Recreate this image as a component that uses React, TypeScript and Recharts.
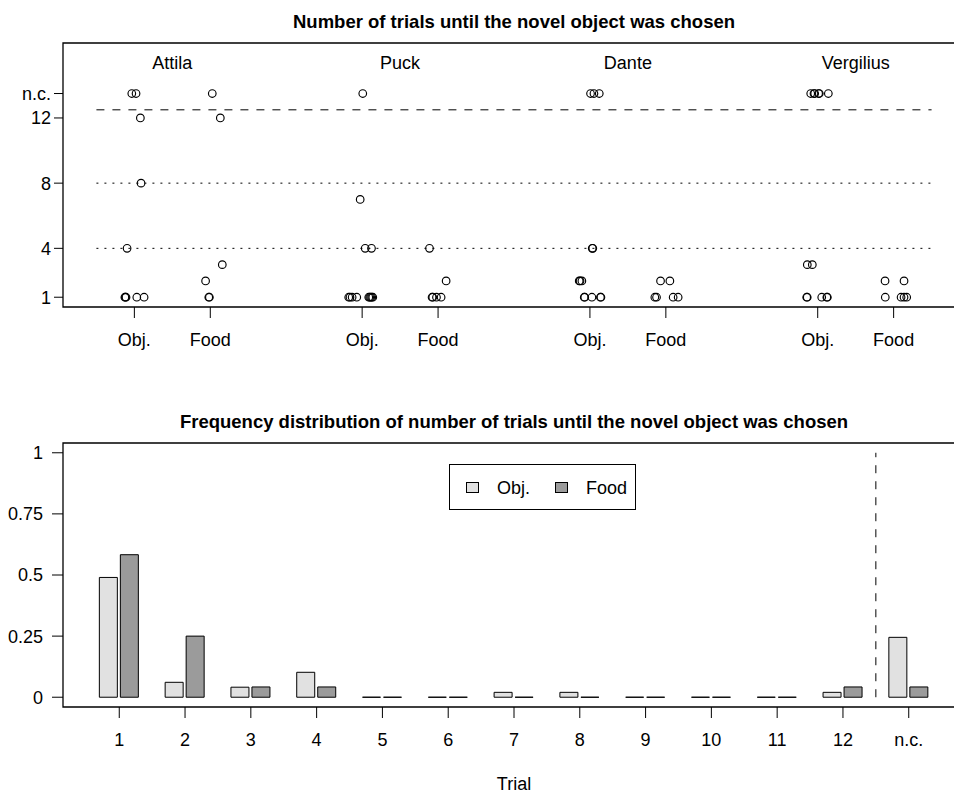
import React from 'react';
import {
  Bar,
  BarChart,
  ReferenceArea,
  ReferenceLine,
  Scatter,
  ScatterChart,
  XAxis,
  YAxis,
  Label,
} from 'recharts';

const FONT = '"Liberation Sans", Arial, Helvetica, sans-serif';

// ---- top panel: trial at which each animal picked the novel object ----
const individuals = ['Attila', 'Puck', 'Dante', 'Vergilius'];
const conditions = ['Obj.', 'Food'];
const NC = 13.5; // height used for "not chosen"
const THRESHOLD = 12.5;
const guideLevels = [4, 8];
const topYTicks = [1, 4, 8, 12, NC];
const NAME_Y = 15.43;

// trials ('n.c.' = never chosen) and horizontal jitter
const attilaObjTrials = ['n.c.', 'n.c.', 12, 8, 4, 1, 1, 1, 1, 1];
const attilaObjJitter = [-0.034, 0.022, 0.079, 0.088, -0.096, -0.125, -0.118, -0.11, 0.032, 0.128];
const attilaFoodTrials = ['n.c.', 12, 3, 2, 1, 1];
const attilaFoodJitter = [0.026, 0.132, 0.158, -0.062, -0.02, -0.012];

const puckObjTrials = ['n.c.', 7, 4, 4, 1, 1, 1, 1, 1, 1, 1, 1, 1];
const puckObjJitter = [0.008, -0.026, 0.04, 0.123, -0.177, -0.16, -0.132, -0.071, 0.087, 0.1, 0.113, 0.127, 0.14];
const puckFoodTrials = [4, 2, 1, 1, 1, 1];
const puckFoodJitter = [-0.113, 0.106, -0.079, -0.07, -0.021, 0.04];

const danteObjTrials = ['n.c.', 'n.c.', 'n.c.', 4, 4, 2, 2, 2, 1, 1, 1, 1, 1];
const danteObjJitter = [0.008, 0.053, 0.123, 0.03, 0.038, -0.141, -0.13, -0.106, -0.075, -0.068, 0.026, 0.138, 0.145];
const danteFoodTrials = [2, 2, 1, 1, 1, 1];
const danteFoodJitter = [-0.07, 0.053, -0.145, -0.123, 0.096, 0.162];

const vergiliusObjTrials = ['n.c.', 'n.c.', 'n.c.', 'n.c.', 'n.c.', 'n.c.', 3, 3, 1, 1, 1, 1, 1];
const vergiliusObjJitter = [-0.092, -0.049, -0.04, 0.012, 0.021, 0.14, -0.137, -0.071, -0.145, -0.138, 0.053, 0.12, 0.127];
const vergiliusFoodTrials = [2, 2, 1, 1, 1, 1];
const vergiliusFoodJitter = [-0.113, 0.137, -0.11, 0.098, 0.137, 0.172];

const topGroups = [
  [[attilaObjTrials, attilaObjJitter], [attilaFoodTrials, attilaFoodJitter]],
  [[puckObjTrials, puckObjJitter], [puckFoodTrials, puckFoodJitter]],
  [[danteObjTrials, danteObjJitter], [danteFoodTrials, danteFoodJitter]],
  [[vergiliusObjTrials, vergiliusObjJitter], [vergiliusFoodTrials, vergiliusFoodJitter]],
];

// ---- bottom panel: relative frequencies ----
const trialLabels = ['1', '2', '3', '4', '5', '6', '7', '8', '9', '10', '11', '12', 'n.c.'];
const objFreq = [0.49, 0.061, 0.041, 0.102, 0, 0, 0.02, 0.02, 0, 0, 0, 0.02, 0.245];
const foodFreq = [0.583, 0.25, 0.042, 0.042, 0, 0, 0, 0, 0, 0, 0, 0.042, 0.042];
const freqTicks = [0, 0.25, 0.5, 0.75, 1];

const groupPos = (i: number, c: number) => 3 * i + 1 + c;

const topPoints = topGroups.flatMap((g, i) =>
  g.flatMap(([trials, jitter], c) =>
    (trials as (number | string)[]).map((t, k) => ({
      x: groupPos(i, c) + (jitter as number[])[k],
      y: t === 'n.c.' ? NC : (t as number),
      who: individuals[i],
      cond: conditions[c],
    }))
  )
);
const topXTicks = individuals.flatMap((_, i) => conditions.map((_, c) => groupPos(i, c)));
const nameData = individuals.map((name, i) => ({ x: groupPos(i, 0) + 0.5, y: NAME_Y, name }));

const barData = trialLabels.map((label, i) => ({ pos: i + 1, label, obj: objFreq[i], food: foodFreq[i] }));

const TOP_X = [0.06, 11.94];
const TOP_Y = [0.4, 16.6];
const BOT_X = [0.145, 13.855];
const BOT_Y = [-0.04, 1.04];

const tickFont = { fill: '#000', fontSize: 18, fontFamily: FONT };

const OpenCircle = (props: any) => (
  <circle cx={props.cx} cy={props.cy} r={3.8} fill="none" stroke="#000" strokeWidth={1.15} />
);

const NameText = (props: any) => (
  <text x={props.cx} y={props.cy} dy="0.36em" textAnchor="middle" fontSize={18} fontFamily={FONT} fill="#000">
    {props.payload.name}
  </text>
);

// zero-height bars still get drawn as a flat line, like R does
const OutlinedBar = (props: any) => {
  const { x, y, width, height, fill } = props;
  return <path d={`M${x},${y}h${width}v${height}h${-width}Z`} fill={fill} stroke="#000" strokeWidth={1} />;
};

const titleStyle = (top: number): React.CSSProperties => ({
  position: 'absolute',
  left: 63,
  width: 902,
  top,
  textAlign: 'center',
  fontWeight: 'bold',
  fontSize: 18.5,
  lineHeight: '20px',
  whiteSpace: 'nowrap',
});

const swatch = (left: number, fill: string): React.CSSProperties => ({
  position: 'absolute',
  left,
  top: 17,
  width: 13,
  height: 11,
  background: fill,
  border: '1px solid #000',
  boxSizing: 'border-box',
});

const legendText = (left: number): React.CSSProperties => ({
  position: 'absolute',
  left,
  top: 13,
  fontSize: 18,
  lineHeight: '20px',
});

export default function App() {
  return (
    <div
      style={{
        position: 'absolute',
        left: 0,
        top: 0,
        width: 954,
        height: 793,
        overflow: 'hidden',
        background: '#fff',
        fontFamily: FONT,
        color: '#000',
      }}
    >
      <div style={titleStyle(12)}>Number of trials until the novel object was chosen</div>
      <div style={{ position: 'absolute', left: 0, top: 0 }}>
        <ScatterChart width={975} height={400} margin={{ top: 43, right: 10, bottom: 0, left: 0 }}>
          <XAxis
            type="number"
            dataKey="x"
            domain={TOP_X}
            ticks={topXTicks}
            interval={0}
            allowDataOverflow
            height={93}
            axisLine={false}
            tickLine={{ stroke: '#000' }}
            tickSize={11}
            tickMargin={15}
            tick={tickFont}
            tickFormatter={(v: number) => conditions[(v - 1) % 3]}
          />
          <YAxis
            type="number"
            dataKey="y"
            domain={TOP_Y}
            ticks={topYTicks}
            interval={0}
            allowDataOverflow
            width={63}
            axisLine={false}
            tickLine={{ stroke: '#000' }}
            tickSize={9}
            tickMargin={3}
            tick={tickFont}
            tickFormatter={(v: number) => (v === NC ? 'n.c.' : String(v))}
          />
          <ReferenceArea x1={TOP_X[0]} x2={TOP_X[1]} y1={TOP_Y[0]} y2={TOP_Y[1]} fill="none" stroke="#000" strokeWidth={1.3} />
          {guideLevels.map(l => (
            <ReferenceLine
              key={l}
              segment={[{ x: 0.5, y: l }, { x: 11.5, y: l }]}
              stroke="#000"
              strokeDasharray="2 6"
            />
          ))}
          <ReferenceLine
            segment={[{ x: 0.5, y: THRESHOLD }, { x: 11.5, y: THRESHOLD }]}
            stroke="#000"
            strokeDasharray="8 8"
          />
          <Scatter data={topPoints} shape={OpenCircle} isAnimationActive={false} />
          <Scatter data={nameData} shape={NameText} isAnimationActive={false} />
        </ScatterChart>
      </div>

      <div style={titleStyle(412)}>
        Frequency distribution of number of trials until the novel object was chosen
      </div>
      <div style={{ position: 'absolute', left: 0, top: 400 }}>
        <BarChart
          width={975}
          height={393}
          data={barData}
          barGap={3}
          margin={{ top: 43, right: 10, bottom: 0, left: 0 }}
        >
          <XAxis
            type="number"
            dataKey="pos"
            domain={BOT_X}
            ticks={barData.map(d => d.pos)}
            interval={0}
            allowDataOverflow
            height={86}
            axisLine={false}
            tickLine={{ stroke: '#000' }}
            tickSize={11}
            tickMargin={15}
            tick={tickFont}
            tickFormatter={(v: number) => trialLabels[v - 1]}
          >
            <Label value="Trial" position="insideBottom" offset={3} fill="#000" fontSize={18} fontFamily={FONT} />
          </XAxis>
          <YAxis
            type="number"
            domain={BOT_Y}
            ticks={freqTicks}
            interval={0}
            allowDataOverflow
            width={63}
            axisLine={false}
            tickLine={{ stroke: '#000' }}
            tickSize={11}
            tickMargin={9}
            tick={tickFont}
          />
          <ReferenceArea x1={BOT_X[0]} x2={BOT_X[1]} y1={BOT_Y[0]} y2={BOT_Y[1]} fill="none" stroke="#000" strokeWidth={1.3} />
          <Bar dataKey="obj" fill="#e1e1e1" barSize={18} shape={OutlinedBar} isAnimationActive={false} />
          <Bar dataKey="food" fill="#9b9b9b" barSize={18} shape={OutlinedBar} isAnimationActive={false} />
          <ReferenceLine
            segment={[{ x: 12.5, y: 0 }, { x: 12.5, y: 1 }]}
            stroke="#000"
            strokeDasharray="8 8"
          />
        </BarChart>
      </div>

      <div
        style={{
          position: 'absolute',
          left: 449,
          top: 464,
          width: 187,
          height: 46,
          border: '1px solid #000',
          boxSizing: 'border-box',
          background: '#fff',
        }}
      >
        <span style={swatch(16, '#e1e1e1')} />
        <span style={legendText(47)}>{conditions[0]}</span>
        <span style={swatch(105, '#9b9b9b')} />
        <span style={legendText(136)}>{conditions[1]}</span>
      </div>
    </div>
  );
}
